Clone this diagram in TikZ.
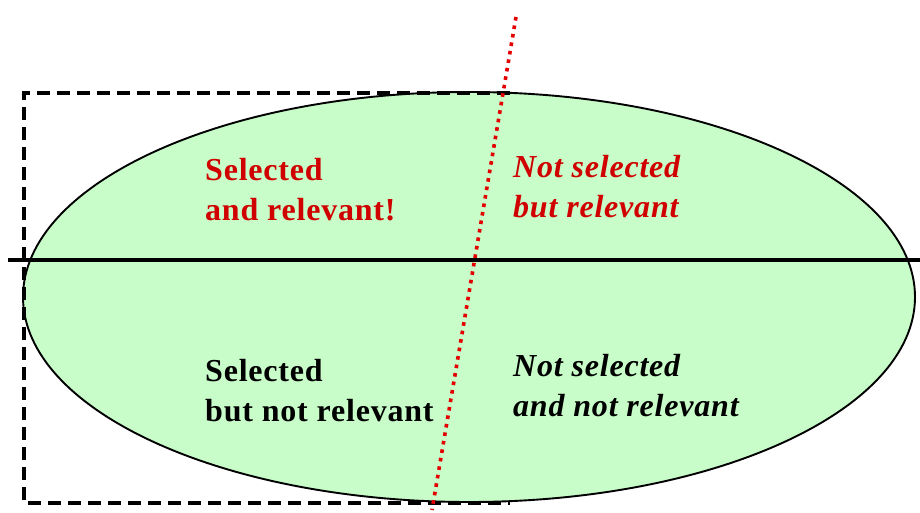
\documentclass[tikz,border=0pt]{standalone}
\usepackage{fontspec}
\setmainfont[LetterSpace=2.5]{Liberation Serif}
\usepackage{tikz}
\usetikzlibrary{shapes.geometric}
\definecolor{setgreen}{RGB}{200,252,200}
\definecolor{relred}{RGB}{208,0,0}
\definecolor{dotred}{RGB}{228,0,0}
\tikzset{
  setbody/.style = {ellipse, draw=black, line width=1.9pt, fill=setgreen, minimum width=892pt, minimum height=410pt, inner sep=0pt},
  divider/.style = {line width=3.8pt},
  cutline/.style = {dotred, line width=3.6pt, dash pattern=on 3.6pt off 5pt},
  selbox/.style = {line width=3.6pt, dash pattern=on 13pt off 7pt},
  celltext/.style = {anchor=north west, align=left, inner sep=0pt, font=\fontsize{32}{40}\selectfont\bfseries},
}
\begin{document}
\begin{tikzpicture}[x=1pt, y=-1pt]
\useasboundingbox (0,0) rectangle (920,513);

% Set of all items
\node[setbody] (set) at (469,297) {};

% Selected box
\coordinate (boxTR) at (510,93);
\coordinate (boxTL) at (24,93);
\coordinate (boxBL) at (24,503);
\coordinate (boxBR) at (510,503);
\draw[selbox] (boxTR) -- (boxTL) -- (boxBL) -- (boxBR);

% Relevance divider and selection cut
\coordinate (divL) at (8,260);
\coordinate (divR) at (920,260);
\draw[divider] (divL) -- (divR);
\coordinate (cutT) at (516,17);
\coordinate (cutB) at (432,510);
\draw[cutline] (cutT) -- (cutB);

% Cell labels
\node[celltext, text=relred] (selrel) at (205,158) {Selected\\and relevant!};
\node[celltext, text=relred] (notselrel) at (513,155) {\itshape Not selected\\\itshape but relevant};
\node[celltext] (selnotrel) at (205,359) {Selected\\but not relevant};
\node[celltext] (notselnotrel) at (513,354) {\itshape Not selected\\\itshape and not relevant};

\end{tikzpicture}
\end{document}
